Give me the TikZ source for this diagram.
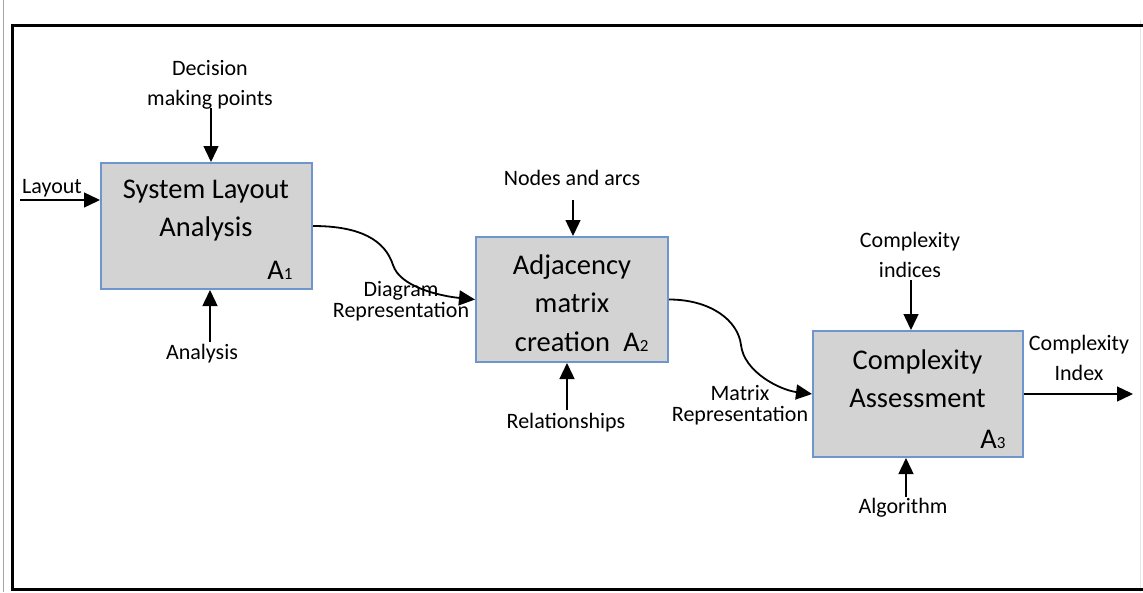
\documentclass[tikz,border=0pt]{standalone}
\usepackage{fontspec}
\setmainfont{Carlito}
\usetikzlibrary{arrows.meta}

\definecolor{boxfill}{RGB}{211,211,211}
\definecolor{boxedge}{RGB}{110,150,205}

\newcommand{\looselines}{\lineskiplimit=-30pt\relax}
\newcommand{\idx}[1]{{\fontsize{17}{17}\selectfont #1}}

\tikzset{
  stagebox/.style={draw=boxedge, fill=boxfill, line width=2pt, inner sep=0pt},
  bigtext/.style={font=\fontsize{28.5}{38}\selectfont, align=center, inner sep=0pt},
  lbl/.style={font=\fontsize{22}{30}\selectfont\looselines, align=center, inner sep=0pt},
  tightlbl/.style={font=\fontsize{22}{20.5}\selectfont\looselines, align=center, inner sep=0pt},
  arr/.style={line width=1.4pt, -{Triangle[length=16pt,width=15pt]}},
  carr/.style={line width=1.8pt, -{Triangle[length=16pt,width=15pt]}},
}

\begin{document}
\begin{tikzpicture}[x=1pt, y=-1pt]
  \useasboundingbox (0,0) rectangle (1143,592);
  \fill[white] (0,0) rectangle (1143,592);

  % page edges and frame
  \draw[gray!70, line width=1pt] (3,0) -- (3,592);
  \draw[gray!20, line width=1pt] (1140,20) -- (1140,592);
  \draw[line width=3pt] (1143,25) -- (12,25) -- (12,589) -- (1143,589);

  % activity boxes
  \node[stagebox, minimum width=211pt, minimum height=126pt] (b1) at (206.5,226) {};
  \node[stagebox, minimum width=192pt, minimum height=125pt] (b2) at (572,299.5) {};
  \node[stagebox, minimum width=210pt, minimum height=126pt] (b3) at (918,394) {};

  % box titles
  \node[bigtext] (t1) at (206,211) {System Layout\\Analysis};
  \node[bigtext] (n1) at (280,270) {A\idx{1}};
  \node[bigtext] (t2) at (572,284) {Adjacency\\matrix};
  \node[bigtext] (t2b) at (562.5,342) {creation};
  \node[bigtext] (n2) at (636,342) {A\idx{2}};
  \node[bigtext] (t3) at (917.5,379) {Complexity\\Assessment};
  \node[bigtext] (n3) at (993,439) {A\idx{3}};

  % inputs, controls and mechanisms
  \node[lbl] (dec) at (210,85) {Decision\\making points};
  \coordinate (decs) at (211,108);
  \draw[arr] (decs) -- (decs |- b1.north);

  \node[lbl] (lay) at (52,188) {Layout};
  \coordinate (lays) at (20,200);
  \draw[arr] (lays) -- (lays -| b1.west);

  \node[lbl] (ana) at (202,354) {Analysis};
  \coordinate (anas) at (210,342);
  \draw[arr] (anas) -- (anas |- b1.south);

  \node[lbl] (noa) at (572,178) {Nodes and arcs};
  \coordinate (noas) at (573,200);
  \draw[arr] (noas) -- (noas |- b2.north);

  \node[lbl] (rel) at (566,423) {Relationships};
  \coordinate (rels) at (567,410);
  \draw[arr] (rels) -- (rels |- b2.south);

  \node[lbl] (cxi) at (910,255) {Complexity\\indices};
  \coordinate (cxis) at (911,280);
  \draw[arr] (cxis) -- (cxis |- b3.north);

  \node[lbl] (alg) at (903,508) {Algorithm};
  \coordinate (algs) at (906,497);
  \draw[arr] (algs) -- (algs |- b3.south);

  % flows between activities
  \draw[carr] (b1.east) .. controls (360,226) and (385,240) .. (393,265)
              .. controls (400,287) and (440,296) .. (b2.west);
  \node[tightlbl] (dia) at (401,301) {Diagram\\Representation};

  \draw[carr] (b2.east) .. controls (710,299.5) and (738,320) .. (741,345)
              .. controls (744,372) and (780,390) .. (b3.west);
  \node[tightlbl] (mat) at (740,405) {Matrix\\Representation};

  % output
  \coordinate (outp) at (1133,394);
  \draw[arr] (b3.east) -- (outp);
  \node[lbl] (cix) at (1079,358) {Complexity\\Index};
\end{tikzpicture}
\end{document}
